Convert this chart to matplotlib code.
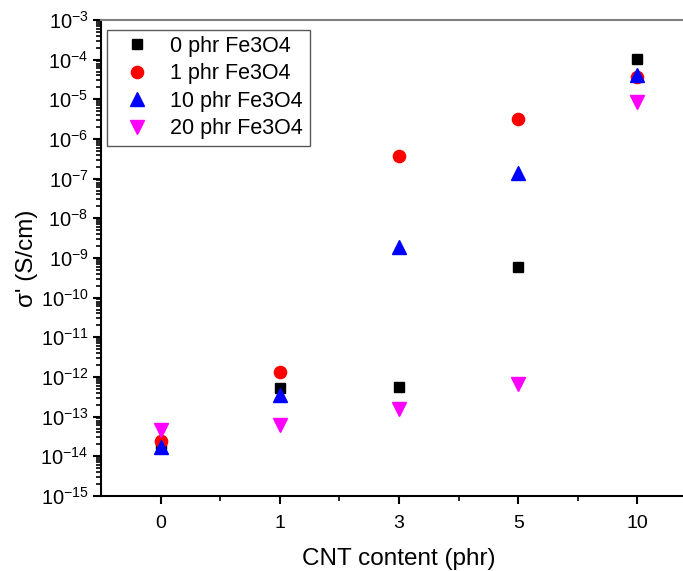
import matplotlib
matplotlib.use("Agg")
import matplotlib.pyplot as plt
import numpy as np
from matplotlib.ticker import LogLocator, FixedLocator, FuncFormatter

plt.rcParams['font.family'] = ['Liberation Sans', 'DejaVu Sans']
plt.rcParams['mathtext.fontset'] = 'custom'
plt.rcParams['mathtext.rm'] = 'Liberation Sans'

# data
cnt_labels = ['0', '1', '3', '5', '10']
phr0 = [2.0e-14, 5.2e-13, 5.7e-13, 6.0e-10, 1.02e-4]
phr1 = [2.5e-14, 1.3e-12, 3.7e-7, 3.2e-6, 3.6e-5]
phr10 = [1.7e-14, 3.6e-13, 1.9e-9, 1.4e-7, 4.2e-5]
phr20 = [4.5e-14, 6.0e-14, 1.55e-13, 6.5e-13, 8.7e-6]

xpos = np.arange(len(cnt_labels))

fig = plt.figure(figsize=(6.83, 5.71), dpi=100)
ax = fig.add_axes([101 / 683, 1 - 496 / 571, 596 / 683, 476 / 571])

ax.plot(xpos, phr0, 's', color='black', markersize=7.7, label='0 phr Fe3O4')
ax.plot(xpos, phr1, 'o', color='red', markersize=8.8, label='1 phr Fe3O4')
ax.plot(xpos, phr10, '^', color='blue', markersize=10, label='10 phr Fe3O4')
ax.plot(xpos, phr20, 'v', color='magenta', markersize=10, label='20 phr Fe3O4')

ax.set_yscale('log')
ax.set_ylim(1e-15, 1e-3)
ax.set_xlim(-0.5, 4.5)
ax.set_yticks([10.0 ** k for k in range(-15, -2)])
ax.yaxis.set_major_formatter(FuncFormatter(lambda v, p: r'$\mathregular{10^{%d}}$' % round(np.log10(v))))
ax.yaxis.set_minor_locator(LogLocator(base=10, subs=np.arange(2, 10), numticks=100))
ax.yaxis.set_minor_formatter(plt.NullFormatter())
ax.set_xticks(xpos)
ax.set_xticklabels(cnt_labels)
ax.xaxis.set_minor_locator(FixedLocator(xpos[:-1] + 0.5))

ax.tick_params(axis='both', which='major', direction='out', length=6, width=1.5)
ax.tick_params(axis='both', which='minor', direction='out', length=3.5, width=1.2)
ax.tick_params(axis='x', labelsize=14, pad=8)
ax.tick_params(axis='y', labelsize=14.5, pad=3)

for s in ['left', 'bottom']:
    ax.spines[s].set_linewidth(1.5)
ax.spines['top'].set_color('0.5')
ax.spines['top'].set_linewidth(1.5)

ax.set_xlabel('CNT content (phr)', fontsize=17.5, labelpad=11)
ax.set_ylabel("σ' (S/cm)", fontsize=17.5, labelpad=2)

leg = ax.legend(loc='upper left', bbox_to_anchor=(0.01, 0.98), fontsize=15.5,
                fancybox=False, edgecolor='0.35', framealpha=1,
                handletextpad=0.45, labelspacing=0.3, borderpad=0.3,
                handlelength=2.2, borderaxespad=0)
leg.get_frame().set_linewidth(1.0)

fig.savefig('out.png', dpi=100)
